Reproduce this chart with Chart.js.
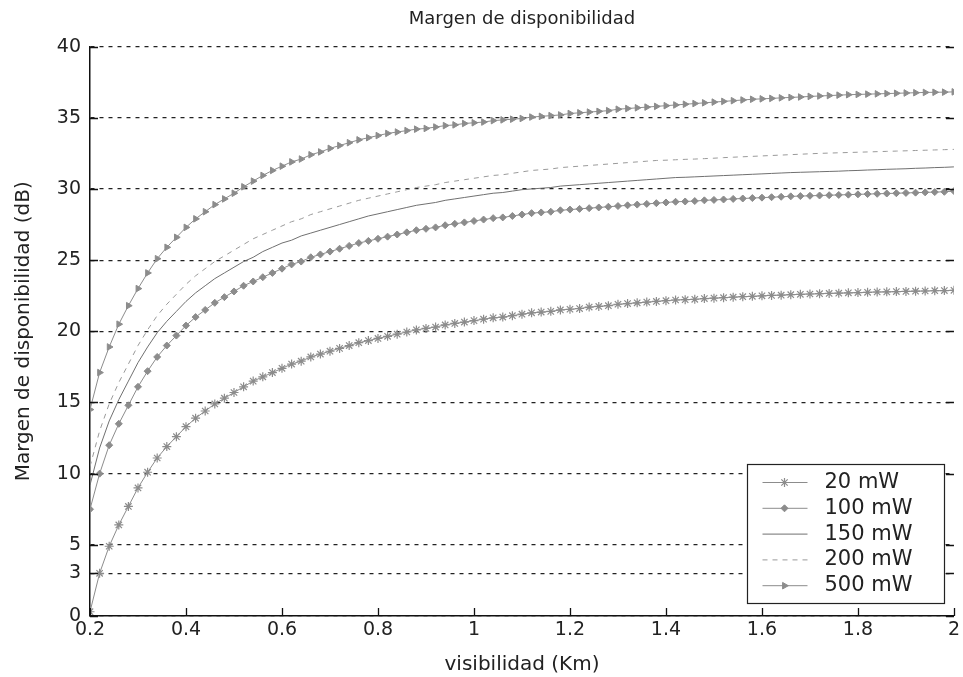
<!DOCTYPE html>
<html>
<head>
<meta charset="utf-8">
<title>Margen de disponibilidad</title>
<script src="https://cdn.jsdelivr.net/npm/chart.js@4.4.0/dist/chart.umd.min.js"></script>
<style>
    html, body { margin: 0; padding: 0; background: #ffffff; }
    #wrap { width: 963px; height: 677px; }
</style>
</head>
<body>
<div id="wrap"><canvas id="chart" width="963" height="677"></canvas></div>
<script>
// visibilidad (Km)
const visibilidad = [
    0.20, 0.22, 0.24, 0.26, 0.28, 0.30, 0.32, 0.34, 0.36, 0.38,
    0.40, 0.42, 0.44, 0.46, 0.48, 0.50, 0.52, 0.54, 0.56, 0.58,
    0.60, 0.62, 0.64, 0.66, 0.68, 0.70, 0.72, 0.74, 0.76, 0.78,
    0.80, 0.82, 0.84, 0.86, 0.88, 0.90, 0.92, 0.94, 0.96, 0.98,
    1.00, 1.02, 1.04, 1.06, 1.08, 1.10, 1.12, 1.14, 1.16, 1.18,
    1.20, 1.22, 1.24, 1.26, 1.28, 1.30, 1.32, 1.34, 1.36, 1.38,
    1.40, 1.42, 1.44, 1.46, 1.48, 1.50, 1.52, 1.54, 1.56, 1.58,
    1.60, 1.62, 1.64, 1.66, 1.68, 1.70, 1.72, 1.74, 1.76, 1.78,
    1.80, 1.82, 1.84, 1.86, 1.88, 1.90, 1.92, 1.94, 1.96, 1.98,
    2.00
];

// margen (dB) por potencia
const margen20 = [
    0.3, 3.0, 4.9, 6.4, 7.7, 9.0, 10.1, 11.1, 11.9, 12.6,
    13.3, 13.9, 14.4, 14.9, 15.3, 15.7, 16.1, 16.5, 16.8, 17.1,
    17.4, 17.7, 17.9, 18.2, 18.4, 18.6, 18.8, 19.0, 19.2, 19.35,
    19.5, 19.65, 19.8, 19.95, 20.1, 20.2, 20.3, 20.45, 20.55, 20.65,
    20.75, 20.85, 20.95, 21.0, 21.1, 21.2, 21.3, 21.35, 21.4, 21.5,
    21.55, 21.6, 21.7, 21.75, 21.8, 21.9, 21.95, 22.0, 22.05, 22.1,
    22.15, 22.2, 22.22, 22.25, 22.3, 22.33, 22.36, 22.4, 22.43, 22.46,
    22.49, 22.52, 22.54, 22.57, 22.6, 22.62, 22.64, 22.66, 22.68, 22.7,
    22.72, 22.74, 22.76, 22.77, 22.79, 22.8, 22.82, 22.83, 22.85, 22.86,
    22.88
];
const margen100 = [
    7.5, 10.0, 12.0, 13.5, 14.8, 16.1, 17.2, 18.2, 19.0, 19.7,
    20.4, 21.0, 21.5, 22.0, 22.4, 22.8, 23.2, 23.5, 23.8, 24.1,
    24.4, 24.7, 24.9, 25.2, 25.4, 25.6, 25.8, 26.0, 26.2, 26.35,
    26.5, 26.65, 26.8, 26.95, 27.1, 27.2, 27.3, 27.45, 27.55, 27.65,
    27.75, 27.85, 27.95, 28.0, 28.1, 28.2, 28.3, 28.35, 28.4, 28.5,
    28.55, 28.6, 28.65, 28.7, 28.75, 28.8, 28.85, 28.9, 28.95, 29.0,
    29.05, 29.1, 29.12, 29.15, 29.2, 29.23, 29.26, 29.3, 29.33, 29.36,
    29.39, 29.42, 29.45, 29.48, 29.5, 29.52, 29.54, 29.56, 29.58, 29.6,
    29.62, 29.64, 29.66, 29.68, 29.7, 29.72, 29.74, 29.76, 29.78, 29.8,
    29.85
];
const margen150 = [
    9.2, 11.8, 13.7, 15.2, 16.5, 17.8, 18.9, 19.9, 20.7, 21.4,
    22.1, 22.7, 23.2, 23.7, 24.1, 24.5, 24.9, 25.2, 25.6, 25.9,
    26.2, 26.4, 26.7, 26.9, 27.1, 27.3, 27.5, 27.7, 27.9, 28.1,
    28.25, 28.4, 28.55, 28.7, 28.85, 28.95, 29.05, 29.2, 29.3, 29.4,
    29.5, 29.6, 29.7, 29.75, 29.85, 29.95, 30.0, 30.05, 30.1, 30.2,
    30.25, 30.3, 30.35, 30.4, 30.45, 30.5, 30.55, 30.6, 30.65, 30.7,
    30.75, 30.8, 30.82, 30.85, 30.88, 30.91, 30.94, 30.97, 31.0, 31.03,
    31.06, 31.09, 31.12, 31.15, 31.17, 31.19, 31.21, 31.23, 31.25, 31.28,
    31.3, 31.33, 31.35, 31.38, 31.4, 31.42, 31.45, 31.47, 31.5, 31.52,
    31.55
];
const margen200 = [
    10.5, 13.0, 14.9, 16.4, 17.7, 19.0, 20.1, 21.1, 21.9, 22.6,
    23.3, 23.9, 24.4, 24.9, 25.3, 25.7, 26.1, 26.5, 26.8, 27.1,
    27.4, 27.7, 27.9, 28.2, 28.4, 28.6, 28.8, 29.0, 29.2, 29.35,
    29.5, 29.65, 29.8, 29.95, 30.1, 30.2, 30.3, 30.45, 30.55, 30.65,
    30.75, 30.85, 30.95, 31.0, 31.1, 31.2, 31.3, 31.35, 31.4, 31.5,
    31.55, 31.6, 31.65, 31.7, 31.75, 31.8, 31.85, 31.9, 31.95, 32.0,
    32.02, 32.05, 32.08, 32.1, 32.13, 32.16, 32.2, 32.23, 32.26, 32.29,
    32.32, 32.35, 32.38, 32.41, 32.44, 32.47, 32.5, 32.52, 32.54, 32.56,
    32.58, 32.6, 32.62, 32.64, 32.66, 32.68, 32.7, 32.72, 32.74, 32.76,
    32.78
];
const margen500 = [
    14.5, 17.1, 18.9, 20.5, 21.8, 23.0, 24.1, 25.1, 25.9, 26.6,
    27.3, 27.9, 28.4, 28.9, 29.3, 29.7, 30.15, 30.55, 30.95, 31.3,
    31.6, 31.9, 32.1, 32.4, 32.6, 32.85, 33.05, 33.25, 33.45, 33.6,
    33.75, 33.9, 34.0, 34.1, 34.2, 34.25, 34.35, 34.45, 34.5, 34.6,
    34.65, 34.7, 34.8, 34.85, 34.9, 34.95, 35.05, 35.1, 35.15, 35.2,
    35.3, 35.35, 35.4, 35.45, 35.5, 35.6, 35.65, 35.7, 35.75, 35.8,
    35.85, 35.9, 35.95, 36.0, 36.05, 36.1, 36.15, 36.2, 36.25, 36.3,
    36.33, 36.36, 36.4, 36.43, 36.46, 36.5, 36.53, 36.56, 36.59, 36.62,
    36.64, 36.66, 36.68, 36.7, 36.72, 36.74, 36.76, 36.78, 36.79, 36.8,
    36.82
];

const seriesLabels = ["20 mW", "100 mW", "150 mW", "200 mW", "500 mW"];
const xTickValues = [0.2, 0.4, 0.6, 0.8, 1.0, 1.2, 1.4, 1.6, 1.8, 2.0];
const yTickValues = [0, 3, 5, 10, 15, 20, 25, 30, 35, 40];

const FONT = "'DejaVu Sans', 'Liberation Sans', sans-serif";
const INK = "#222222";

function toPoints(values) {
    return visibilidad.map((v, i) => ({ x: v, y: values[i] }));
}

// ticks hacia dentro, como en MATLAB
const innerTicks = {
    id: "innerTicks",
    afterDatasetsDraw(chart) {
        const { ctx, chartArea: a, scales } = chart;
        ctx.save();
        ctx.strokeStyle = "#111111";
        ctx.lineWidth = 1.3;
        ctx.setLineDash([]);
        ctx.beginPath();
        scales.y.ticks.forEach(t => {
            const py = Math.round(scales.y.getPixelForValue(t.value)) + 0.5;
            ctx.moveTo(a.left, py);
            ctx.lineTo(a.left + 8, py);
            ctx.moveTo(a.right, py);
            ctx.lineTo(a.right - 8, py);
        });
        scales.x.ticks.forEach(t => {
            const px = Math.round(scales.x.getPixelForValue(t.value)) + 0.5;
            ctx.moveTo(px, a.bottom);
            ctx.lineTo(px, a.bottom - 8);
        });
        ctx.stroke();
        ctx.restore();
    }
};

// leyenda dentro del área, abajo a la derecha
const boxLegend = {
    id: "boxLegend",
    afterDraw(chart) {
        const { ctx, chartArea: a } = chart;
        const w = 197, h = 139;
        const x0 = Math.round(a.right - 10 - w) + 0.5;
        const y0 = Math.round(a.bottom - 13 - h) + 0.5;
        ctx.save();
        ctx.fillStyle = "#ffffff";
        ctx.fillRect(x0, y0, w, h);
        ctx.strokeStyle = INK;
        ctx.lineWidth = 1.2;
        ctx.setLineDash([]);
        ctx.strokeRect(x0, y0, w, h);

        chart.data.datasets.forEach((ds, i) => {
            const y = y0 + 18 + i * 25.8;
            ctx.strokeStyle = ds.borderColor;
            ctx.lineWidth = ds.borderWidth;
            ctx.setLineDash(ds.borderDash || []);
            ctx.beginPath();
            ctx.moveTo(x0 + 15, y);
            ctx.lineTo(x0 + 60, y);
            ctx.stroke();
            ctx.setLineDash([]);

            if (ds.pointRadius > 0 && Chart.helpers && Chart.helpers.drawPoint) {
                ctx.fillStyle = ds.pointBackgroundColor;
                ctx.strokeStyle = ds.pointBorderColor;
                ctx.lineWidth = ds.pointBorderWidth;
                Chart.helpers.drawPoint(ctx, {
                    pointStyle: ds.pointStyle,
                    radius: ds.pointRadius,
                    rotation: ds.pointRotation || 0,
                    borderWidth: ds.pointBorderWidth
                }, x0 + 37, y);
            }

            ctx.fillStyle = INK;
            ctx.font = "21px " + FONT;
            ctx.textBaseline = "middle";
            ctx.textAlign = "left";
            ctx.fillText(ds.label, x0 + 77, y);
        });
        ctx.restore();
    }
};

const datasets = [
    {
        label: seriesLabels[0],
        data: toPoints(margen20),
        borderColor: "#8c8c8c",
        borderWidth: 1,
        pointStyle: "star",
        pointRadius: 4.5,
        pointBorderColor: "#8c8c8c",
        pointBackgroundColor: "#8c8c8c",
        pointBorderWidth: 1.2
    },
    {
        label: seriesLabels[1],
        data: toPoints(margen100),
        borderColor: "#8c8c8c",
        borderWidth: 1,
        pointStyle: "rectRot",
        pointRadius: 3.5,
        pointBorderColor: "#8c8c8c",
        pointBackgroundColor: "#8c8c8c",
        pointBorderWidth: 1
    },
    {
        label: seriesLabels[2],
        data: toPoints(margen150),
        borderColor: "#707070",
        borderWidth: 1,
        pointRadius: 0
    },
    {
        label: seriesLabels[3],
        data: toPoints(margen200),
        borderColor: "#9a9a9a",
        borderWidth: 1,
        borderDash: [5, 5],
        pointRadius: 0
    },
    {
        label: seriesLabels[4],
        data: toPoints(margen500),
        borderColor: "#8c8c8c",
        borderWidth: 1,
        pointStyle: "triangle",
        pointRotation: 90,
        pointRadius: 3.8,
        pointBorderColor: "#8c8c8c",
        pointBackgroundColor: "#8c8c8c",
        pointBorderWidth: 1
    }
];

new Chart(document.getElementById("chart").getContext("2d"), {
    type: "line",
    data: { datasets },
    plugins: [innerTicks, boxLegend],
    options: {
        responsive: false,
        animation: false,
        events: [],
        layout: { padding: { left: 0, right: 6, top: 0, bottom: 0 } },
        elements: { line: { tension: 0 } },
        plugins: {
            legend: { display: false },
            tooltip: { enabled: false },
            title: {
                display: true,
                fullSize: false,
                text: "Margen de disponibilidad",
                color: INK,
                font: { family: FONT, size: 18, weight: "normal" },
                padding: { top: 9, bottom: 16 }
            }
        },
        scales: {
            x: {
                type: "linear",
                min: 0.2,
                max: 2,
                afterBuildTicks: scale => {
                    scale.ticks = xTickValues.map(v => ({ value: v }));
                },
                afterFit: scale => { scale.height = 61; },
                grid: { display: false, drawTicks: false },
                border: { display: true, color: "#111111", width: 1.5 },
                ticks: {
                    color: INK,
                    padding: 3,
                    maxRotation: 0,
                    autoSkip: false,
                    font: { family: FONT, size: 19 },
                    callback: v => String(Number(v.toFixed(1)))
                },
                title: {
                    display: true,
                    text: "visibilidad (Km)",
                    color: INK,
                    font: { family: FONT, size: 20 },
                    padding: { top: 4, bottom: 0 }
                }
            },
            y: {
                min: 0,
                max: 40,
                afterBuildTicks: scale => {
                    scale.ticks = yTickValues.map(v => ({ value: v }));
                },
                afterFit: scale => { scale.width = 90; },
                grid: { color: "#222222", lineWidth: 1.2, drawTicks: false },
                border: { display: true, color: "#111111", width: 1.5, dash: [4, 5] },
                ticks: {
                    color: INK,
                    padding: 9,
                    autoSkip: false,
                    font: { family: FONT, size: 19 }
                },
                title: {
                    display: true,
                    text: "Margen de disponibilidad (dB)",
                    color: INK,
                    font: { family: FONT, size: 20 },
                    padding: { top: 12, bottom: 0 }
                }
            }
        }
    }
});
</script>
</body>
</html>
